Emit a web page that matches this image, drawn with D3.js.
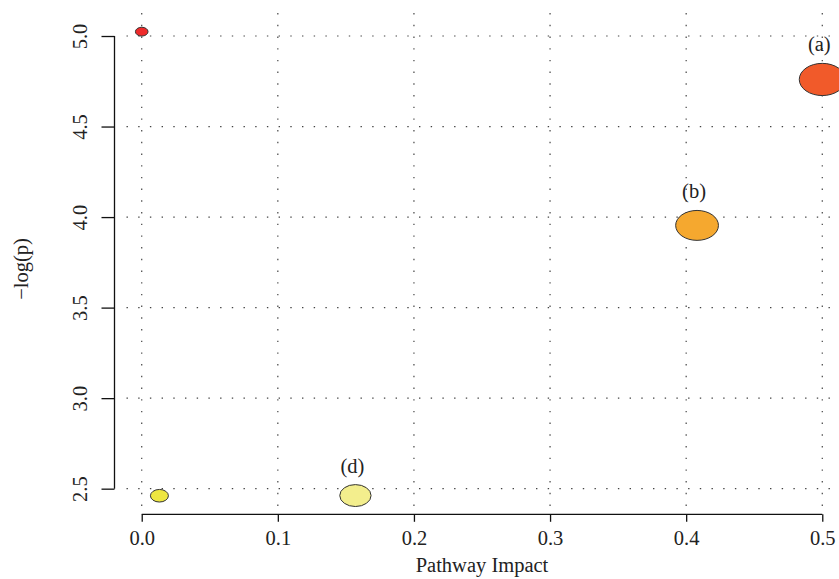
<!DOCTYPE html>
<html>
<head>
<meta charset="utf-8">
<script src="https://cdn.jsdelivr.net/npm/d3@7"></script>
<style>
  html, body { margin: 0; padding: 0; background: #fff; }
  svg { display: block; }
  text { font-family: "Liberation Serif", "DejaVu Serif", serif; fill: #222; }
</style>
</head>
<body>
<script>
// Pathway analysis: impact vs. -log(p)
const pathways = ["p1", "p2", "p3", "p4", "p5"];
const impact   = [0.0, 0.5, 0.408, 0.013, 0.157];
const negLogP  = [5.024, 4.760, 3.954, 2.461, 2.462];
const labels   = ["", "(a)", "(b)", "", "(d)"];
const xTicks   = [0.0, 0.1, 0.2, 0.3, 0.4, 0.5];
const yTicks   = [2.5, 3.0, 3.5, 4.0, 4.5, 5.0];

// fill per pathway (heat colours by significance)
const fills = ["#EE2B2B", "#F15A2A", "#F5A82F", "#EEE640", "#F3EE8D"];

const W = 839, H = 579;
const plot = { left: 114.5, right: 849.5, top: 13.1, bottom: 514.3 };
const FS = 20.5;

const svg = d3.select("body").append("svg")
  .attr("width", W).attr("height", H);

// R-style 4% axis expansion around the data range
function expand([lo, hi]) { const d = (hi - lo) * 0.04; return [lo - d, hi + d]; }

const x = d3.scaleLinear().domain(expand(d3.extent(impact))).range([plot.left, plot.right]);
const y = d3.scaleLinear().domain(expand(d3.extent(negLogP))).range([plot.bottom, plot.top]);
const r = d3.scaleSqrt().domain([0, 0.5]).range([6.3, 23]);

const fmt = d3.format(".1f");

// dotted grid
const grid = svg.append("g")
  .attr("stroke", "#444").attr("stroke-width", 1.2)
  .attr("stroke-dasharray", "1.4 10.3");
grid.selectAll("line.v").data(xTicks).join("line")
  .attr("class", "v")
  .attr("x1", d => x(d)).attr("x2", d => x(d))
  .attr("y1", plot.top).attr("y2", plot.bottom);
grid.selectAll("line.h").data(yTicks).join("line")
  .attr("class", "h")
  .attr("y1", d => y(d)).attr("y2", d => y(d))
  .attr("x1", plot.left + 12).attr("x2", plot.right);

// x axis
const xAxis = svg.append("g")
  .attr("transform", `translate(0,${plot.bottom})`)
  .call(d3.axisBottom(x).tickValues(xTicks).tickFormat(fmt).tickSize(7.5).tickSizeOuter(0));
xAxis.select(".domain")
  .attr("d", `M${x(xTicks[0])},0H${x(xTicks[xTicks.length - 1])}`);
xAxis.selectAll("line, path").attr("stroke", "#111").attr("stroke-width", 1.3);
xAxis.selectAll("text")
  .attr("font-size", FS).attr("font-family", "Liberation Serif, serif")
  .attr("fill", "#222").attr("y", 0).attr("dy", 0)
  .attr("transform", "translate(0,31)");

// y axis
const yAxis = svg.append("g")
  .attr("transform", `translate(${plot.left},0)`)
  .call(d3.axisLeft(y).tickValues(yTicks).tickFormat(fmt).tickSize(13).tickSizeOuter(0));
yAxis.select(".domain")
  .attr("d", `M0,${y(yTicks[0])}V${y(yTicks[yTicks.length - 1])}`);
yAxis.selectAll("line, path").attr("stroke", "#111").attr("stroke-width", 1.3);
yAxis.selectAll(".tick text")
  .attr("font-size", FS).attr("font-family", "Liberation Serif, serif")
  .attr("fill", "#222")
  .attr("x", null).attr("dy", null)
  .attr("text-anchor", "middle")
  .attr("transform", "translate(-27.5,0) rotate(-90)");

// axis titles
svg.append("text")
  .attr("x", (plot.left + plot.right) / 2).attr("y", 572)
  .attr("text-anchor", "middle").attr("font-size", FS)
  .text("Pathway Impact");
svg.append("text")
  .attr("transform", `translate(28,269) rotate(-90)`)
  .attr("text-anchor", "middle").attr("font-size", FS)
  .text("\u2212log(p)");

// bubbles
const pts = pathways.map((id, i) => ({
  id, impact: impact[i], p: negLogP[i], label: labels[i], fill: fills[i]
}));

svg.append("g").selectAll("ellipse").data(pts).join("ellipse")
  .attr("cx", d => x(d.impact)).attr("cy", d => y(d.p))
  .attr("rx", d => r(d.impact)).attr("ry", d => r(d.impact) * 0.7)
  .attr("fill", d => d.fill)
  .attr("stroke", "#333").attr("stroke-width", 1);

svg.append("g").selectAll("text").data(pts.filter(d => d.label)).join("text")
  .attr("x", d => x(d.impact) - 3)
  .attr("y", d => y(d.p) - r(d.impact) * 0.7 - 12)
  .attr("text-anchor", "middle").attr("font-size", FS)
  .text(d => d.label);
</script>
</body>
</html>
